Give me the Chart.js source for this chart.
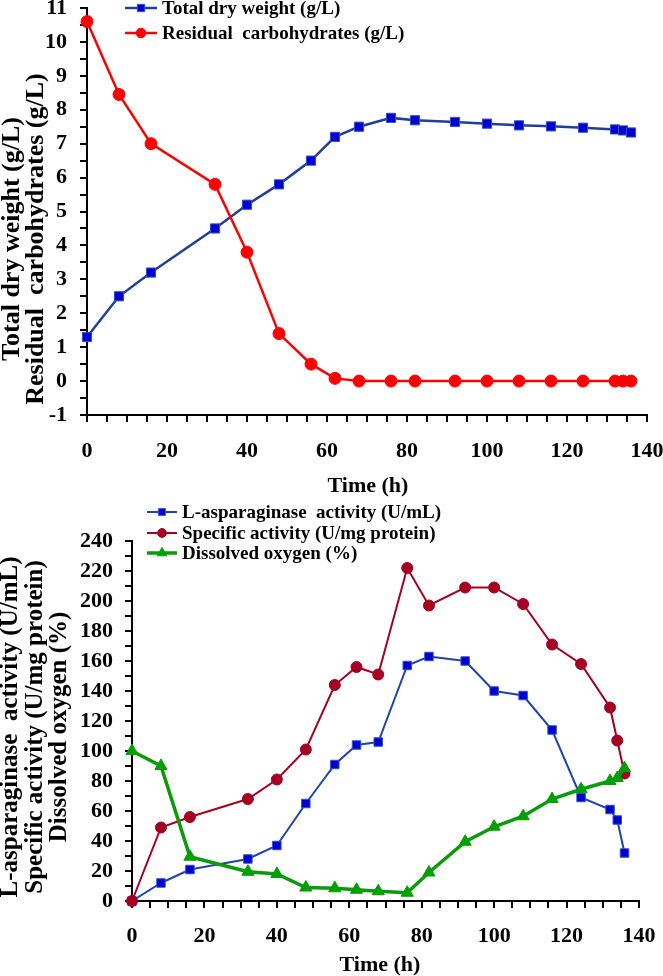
<!DOCTYPE html>
<html>
<head>
<meta charset="utf-8">
<script src="https://cdn.jsdelivr.net/npm/chart.js@4.4.0/dist/chart.umd.min.js"></script>
<style>
  html, body { margin: 0; padding: 0; background: #fff; }
  #wrap { position: relative; width: 663px; height: 976px; }
  canvas { position: absolute; left: 0; }
  #growthChart { top: 0; }
  #enzymeChart { top: 490px; }
</style>
</head>
<body>
<div id="wrap">
  <canvas id="growthChart" width="663" height="500"></canvas>
  <canvas id="enzymeChart" width="663" height="486"></canvas>
</div>
<script>
// sampling times (h), same for both panels
const hours = [0, 8, 16, 32, 40, 48, 56, 62, 68, 76, 82, 92, 100, 108, 116, 124, 132, 134, 136];

// top panel
const dryWeight = [1.3, 2.5, 3.2, 4.5, 5.2, 5.8, 6.5, 7.2, 7.5, 7.76, 7.69, 7.64, 7.59, 7.54, 7.51, 7.47, 7.42, 7.39, 7.33];
const carbohydrates = [10.6, 8.45, 7.0, 5.8, 3.8, 1.4, 0.5, 0.08, 0, 0, 0, 0, 0, 0, 0, 0, 0, 0, 0];

// bottom panel
const asparaginase = [0, 12, 21, 28, 37, 65, 91, 104, 106, 157, 163, 160, 140, 137, 114, 69, 61, 54, 32];
const specificActivity = [0, 49, 56, 68, 81, 101, 144, 156, 151, 222, 197, 209, 209, 198, 171, 158, 129, 107, 85];
const dissolvedOxygen = [100, 90, 29.5, 19.5, 18, 9, 8.5, 7.5, 6.5, 5.5, 19, 39.5, 49.5, 56.5, 68, 74.5, 80, 82, 88.5];

const SERIF = "'Liberation Serif', 'Times New Roman', serif";

function points(values) {
    return hours.map((h, i) => ({ x: h, y: values[i] }));
}

function timeAxis(height, labelPad) {
    return {
        type: 'linear', min: 0, max: 140,
        border: { color: '#000', width: 2 },
        grid: { drawOnChartArea: false, color: '#000', lineWidth: 2, tickLength: 7 },
        ticks: {
            stepSize: 5, autoSkip: false, maxRotation: 0, padding: labelPad, color: '#000',
            font: { family: SERIF, size: 22, weight: 'bold' },
            callback: v => (v % 20 === 0 ? v : '')
        },
        afterFit: s => { s.height = height; s.paddingLeft = 0; s.paddingRight = 0; }
    };
}

function valueAxis(min, max, step, every, width, labelPad) {
    return {
        type: 'linear', min: min, max: max,
        border: { color: '#000', width: 2 },
        grid: { drawOnChartArea: false, color: '#000', lineWidth: 2, tickLength: 7 },
        ticks: {
            stepSize: step, autoSkip: false, padding: labelPad, color: '#000',
            font: { family: SERIF, size: 22, weight: 'bold' },
            callback: v => (Math.abs(v / every - Math.round(v / every)) < 1e-6 ? v : '')
        },
        afterFit: s => { s.width = width; s.paddingTop = 0; s.paddingBottom = 0; }
    };
}

// draws the legend rows and the axis titles
function overlay(cfg) {
    return {
        id: 'overlay',
        afterDraw(chart) {
            const ctx = chart.ctx;
            ctx.save();
            // legend
            cfg.legendRows.forEach((y, i) => {
                const ds = chart.data.datasets[i];
                ctx.strokeStyle = ds.borderColor;
                ctx.lineWidth = ds.borderWidth;
                ctx.beginPath();
                ctx.moveTo(cfg.legendX, y);
                ctx.lineTo(cfg.legendX + cfg.legendLen, y);
                ctx.stroke();
                ctx.fillStyle = ds.pointBackgroundColor;
                ctx.strokeStyle = ds.pointBorderColor;
                ctx.lineWidth = 1;
                Chart.helpers.drawPoint(ctx, {
                    pointStyle: ds.pointStyle, radius: ds.pointRadius * 0.8, borderWidth: 1, rotation: 0
                }, cfg.legendX + cfg.legendLen / 2, y);
                ctx.fillStyle = '#000';
                ctx.font = 'bold 19px ' + SERIF;
                ctx.textAlign = 'left';
                ctx.textBaseline = 'middle';
                ctx.fillText(ds.label, cfg.legendX + cfg.legendLen + 5, y + 1);
            });
            // y title lines (rotated)
            ctx.fillStyle = '#000';
            ctx.font = 'bold ' + cfg.yTitleSize + 'px ' + SERIF;
            ctx.textAlign = 'center';
            ctx.textBaseline = 'middle';
            cfg.yTitle.forEach((line, i) => {
                ctx.save();
                ctx.translate(cfg.yTitleX[i], cfg.yTitleY);
                ctx.rotate(-Math.PI / 2);
                ctx.fillText(line, 0, 0);
                ctx.restore();
            });
            // x title
            ctx.font = 'bold 22px ' + SERIF;
            ctx.fillText('Time (h)', cfg.xTitleX, cfg.xTitleY);
            ctx.restore();
        }
    };
}

new Chart(document.getElementById('growthChart'), {
    type: 'line',
    data: {
        datasets: [{
            label: 'Total dry weight (g/L)',
            data: points(dryWeight),
            borderColor: '#1F3F99', borderWidth: 2.5,
            pointStyle: 'rect', pointRadius: 6.5,
            pointBackgroundColor: '#0000CC', pointBorderColor: '#3050D8', pointBorderWidth: 1,
            clip: false, order: 1
        }, {
            label: 'Residual  carbohydrates (g/L)',
            data: points(carbohydrates),
            borderColor: '#FF0000', borderWidth: 2.5,
            pointStyle: 'circle', pointRadius: 6,
            pointBackgroundColor: '#FF0000', pointBorderColor: '#FF0000', pointBorderWidth: 1,
            clip: false, order: 0
        }]
    },
    options: {
        responsive: false,
        animation: false,
        layout: { padding: { left: 0, right: 16, top: 8, bottom: 0 } },
        elements: { line: { tension: 0 } },
        scales: {
            x: timeAxis(85, 16),
            y: valueAxis(-1, 11, 0.5, 1, 87, 13)
        },
        plugins: { legend: { display: false }, tooltip: { enabled: false } }
    },
    plugins: [overlay({
        legendRows: [8, 33], legendX: 125, legendLen: 32,
        yTitle: ['Total dry weight (g/L)', 'Residual  carbohydrates (g/L)'],
        yTitleSize: 26, yTitleX: [12, 36], yTitleY: 239,
        xTitleX: 368, xTitleY: 486
    })]
});

new Chart(document.getElementById('enzymeChart'), {
    type: 'line',
    data: {
        datasets: [{
            label: 'L-asparaginase  activity (U/mL)',
            data: points(asparaginase),
            borderColor: '#1F45A8', borderWidth: 2,
            pointStyle: 'rect', pointRadius: 6,
            pointBackgroundColor: '#0000CC', pointBorderColor: '#3050D8', pointBorderWidth: 1,
            clip: false, order: 2
        }, {
            label: 'Specific activity (U/mg protein)',
            data: points(specificActivity),
            borderColor: '#A50021', borderWidth: 2,
            pointStyle: 'circle', pointRadius: 5.5,
            pointBackgroundColor: '#A50021', pointBorderColor: '#A50021', pointBorderWidth: 1,
            clip: false, order: 1
        }, {
            label: 'Dissolved oxygen (%)',
            data: points(dissolvedOxygen),
            borderColor: '#0A9A0A', borderWidth: 3.5,
            pointStyle: 'triangle', pointRadius: 7,
            pointBackgroundColor: '#00A000', pointBorderColor: '#00A000', pointBorderWidth: 1,
            clip: false, order: 0
        }]
    },
    options: {
        responsive: false,
        animation: false,
        layout: { padding: { left: 0, right: 24, top: 51, bottom: 0 } },
        elements: { line: { tension: 0 } },
        scales: {
            x: timeAxis(75, 15),
            y: valueAxis(0, 240, 10, 20, 132, 12)
        },
        plugins: { legend: { display: false }, tooltip: { enabled: false } }
    },
    plugins: [overlay({
        legendRows: [22, 43, 63], legendX: 147, legendLen: 30,
        yTitle: ['L-asparaginase  activity (U/mL)', 'Specific activity (U/mg protein)', 'Dissolved oxygen (%)'],
        yTitleSize: 25, yTitleX: [11, 36, 60], yTitleY: 237,
        xTitleX: 380, xTitleY: 475
    })]
});
</script>
</body>
</html>
